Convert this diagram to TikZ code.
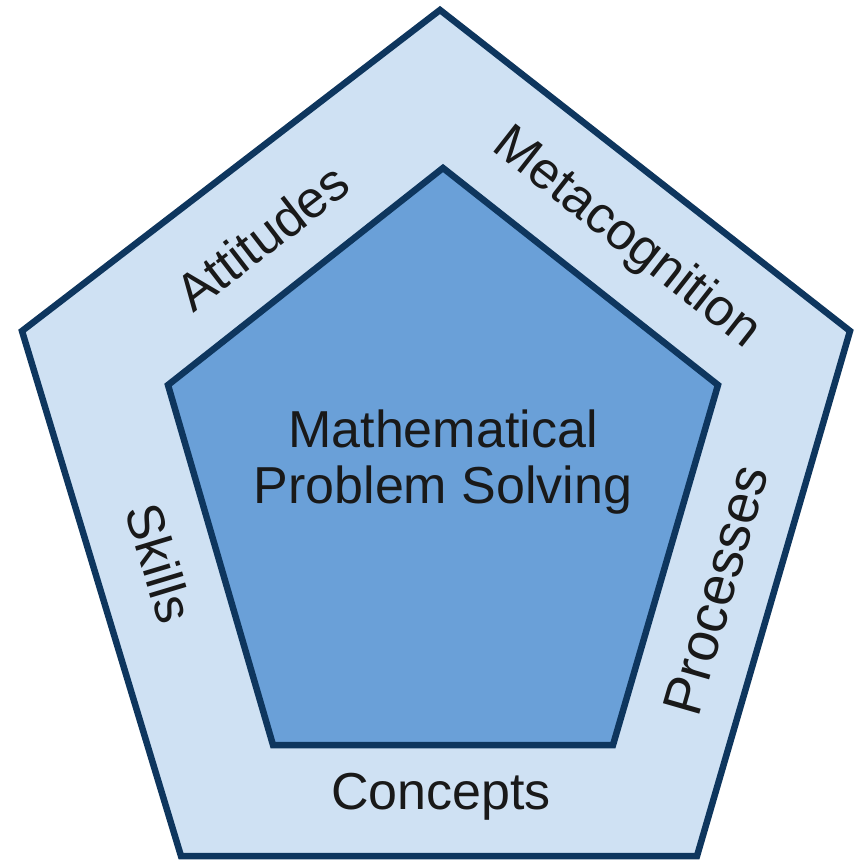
\documentclass[tikz,border=0pt]{standalone}
\usepackage{fontspec}
\setmainfont{Liberation Sans}
\definecolor{outerfill}{RGB}{207,225,243}
\definecolor{innerfill}{RGB}{106,160,216}
\definecolor{edgecol}{RGB}{14,54,94}
\definecolor{txtcol}{RGB}{25,25,25}
\begin{document}
\begin{tikzpicture}[x=1pt,y=-1pt,
  pent/.style={draw=edgecol,line width=6.5pt,line join=miter},
  lbl/.style={text=txtcol,inner sep=0pt,font=\fontsize{52}{60}\selectfont}]
\useasboundingbox (0,0) rectangle (858,862);
\path[pent,fill=outerfill] (440,10) -- (850,331) -- (697,856) -- (181,856) -- (22,331) -- cycle;
\path[pent,fill=innerfill] (443,168) -- (718,385) -- (613,745) -- (273,745) -- (168,385) -- cycle;
\node[lbl,align=center] (main) at (443,462) {Mathematical\\[-4pt]Problem Solving};
\node[lbl,rotate=37.6] (att) at (262,237) {Attitudes};
\node[lbl,rotate=-38.1] (meta) at (626,239) {Metacognition};
\node[lbl,rotate=-73.2] (skills) at (160,563) {Skills};
\node[lbl,rotate=73.9,font=\fontsize{55}{60}\selectfont] (proc) at (716,590) {Processes};
\node[lbl] (conc) at (441,797) {Concepts};
\end{tikzpicture}
\end{document}
